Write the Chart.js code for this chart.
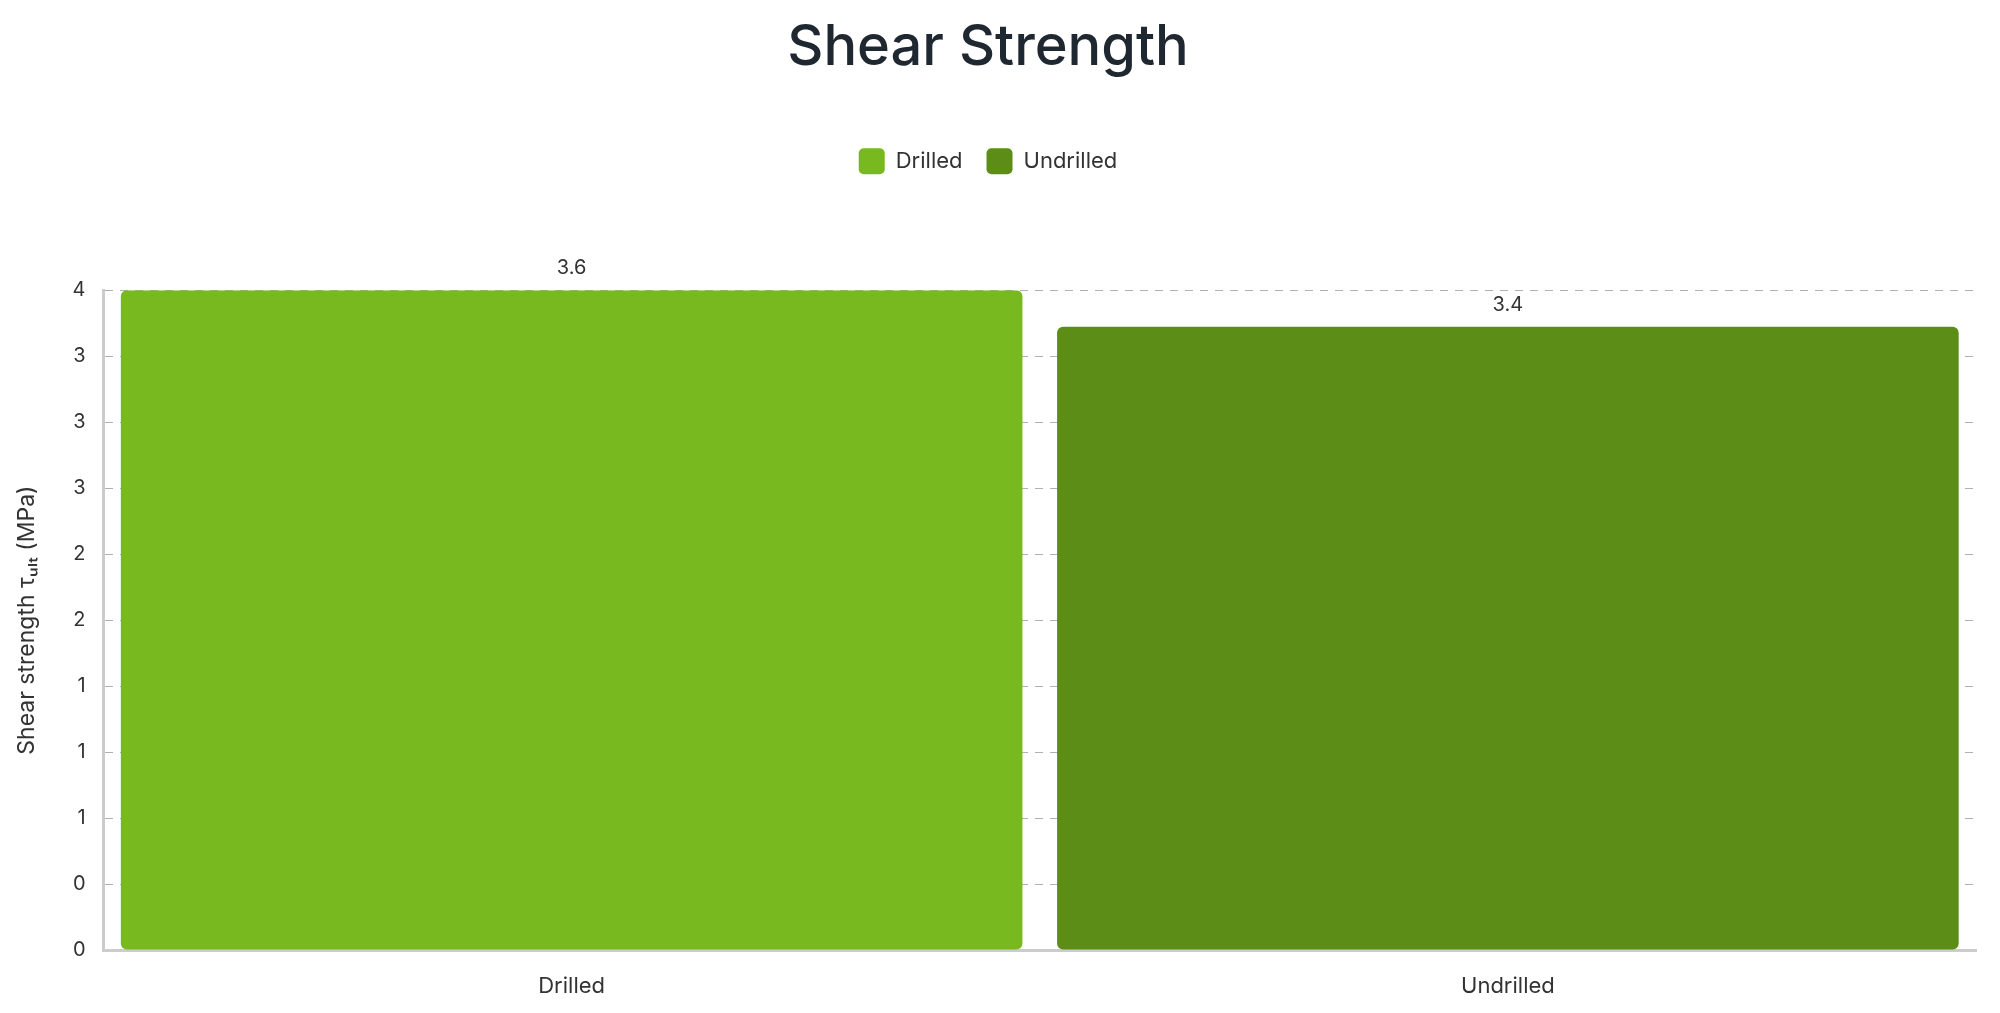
<!DOCTYPE html>
<html>
<head>
<meta charset="utf-8">
<script src="https://cdn.jsdelivr.net/npm/chart.js@4"></script>
<style>
  html, body { margin: 0; padding: 0; background: #fff; }
  #wrap { width: 2000px; height: 1013px; position: relative; }
</style>
</head>
<body>
<div id="wrap"><canvas id="chartShear"></canvas></div>
<script>
const categories = ["Drilled", "Undrilled"];
const drilledValues = [3.6, null];
const undrilledValues = [null, 3.4];
const yTickValues = [0, 0.36, 0.72, 1.08, 1.44, 1.8, 2.16, 2.52, 2.88, 3.24, 3.6];
const yTickLabels = ["0", "0", "1", "1", "1", "2", "2", "3", "3", "3", "4"];

// value labels above each bar
const barLabels = {
    id: "barLabels",
    afterDatasetsDraw(chart) {
        const ctx = chart.ctx;
        ctx.save();
        ctx.font = "20px Inter, sans-serif";
        ctx.fillStyle = "#333";
        ctx.textAlign = "center";
        ctx.textBaseline = "bottom";
        chart.data.datasets.forEach(function (ds, i) {
            const meta = chart.getDatasetMeta(i);
            meta.data.forEach(function (bar, j) {
                if (ds.data[j] == null) return;
                ctx.fillText(ds.data[j].toFixed(1), bar.x, bar.y - 12);
            });
        });
        ctx.restore();
    }
};

// extra room below the legend
const legendGap = {
    id: "legendGap",
    beforeInit(chart) {
        const fit = chart.legend.fit;
        chart.legend.fit = function () {
            fit.bind(chart.legend)();
            this.height += 106;
        };
    }
};

new Chart(document.getElementById("chartShear"), {
    type: "bar",
    data: {
        labels: categories,
        datasets: [{
            label: "Drilled",
            data: drilledValues,
            backgroundColor: "#78b91f",
            borderRadius: 6,
            borderSkipped: false
        }, {
            label: "Undrilled",
            data: undrilledValues,
            backgroundColor: "#5c8e17",
            borderRadius: 6,
            borderSkipped: false
        }]
    },
    options: {
        responsive: true,
        maintainAspectRatio: false,
        animation: false,
        grouped: false,
        categoryPercentage: 1,
        barPercentage: 0.963,
        layout: { padding: { left: 0, right: 24, top: 8, bottom: 0 } },
        plugins: {
            title: {
                display: true,
                text: "Shear Strength",
                color: "#1f2730",
                font: { family: "Inter, sans-serif", size: 56, weight: "500" },
                padding: { top: 7, bottom: 42 }
            },
            legend: {
                labels: {
                    boxWidth: 26,
                    boxHeight: 26,
                    useBorderRadius: true,
                    borderRadius: 5,
                    padding: 24,
                    color: "#333",
                    font: { family: "Inter, sans-serif", size: 22 }
                }
            },
            tooltip: { enabled: false }
        },
        scales: {
            x: {
                afterFit(scale) { scale.height = 63; },
                grid: { display: false, drawTicks: false },
                border: { color: "#cccccc", width: 3 },
                ticks: {
                    color: "#333",
                    padding: 32,
                    font: { family: "Inter, sans-serif", size: 22, lineHeight: 0.37 }
                }
            },
            y: {
                min: 0,
                max: 3.6,
                afterBuildTicks(scale) {
                    scale.ticks = yTickValues.map(function (v) { return { value: v }; });
                },
                grid: { color: "#b0b0b0", drawTicks: false },
                border: { color: "#cccccc", width: 3, dash: [8, 7] },
                ticks: {
                    color: "#333",
                    padding: 18,
                    font: { family: "Inter, sans-serif", size: 20 },
                    callback: function (v, i) { return yTickLabels[i]; }
                },
                title: {
                    display: true,
                    text: "Shear strength τᵤₗₜ (MPa)",
                    color: "#333",
                    font: { family: "Inter, sans-serif", size: 23 },
                    padding: { top: 13, bottom: 14 }
                }
            }
        }
    },
    plugins: [barLabels, legendGap]
});
</script>
</body>
</html>
